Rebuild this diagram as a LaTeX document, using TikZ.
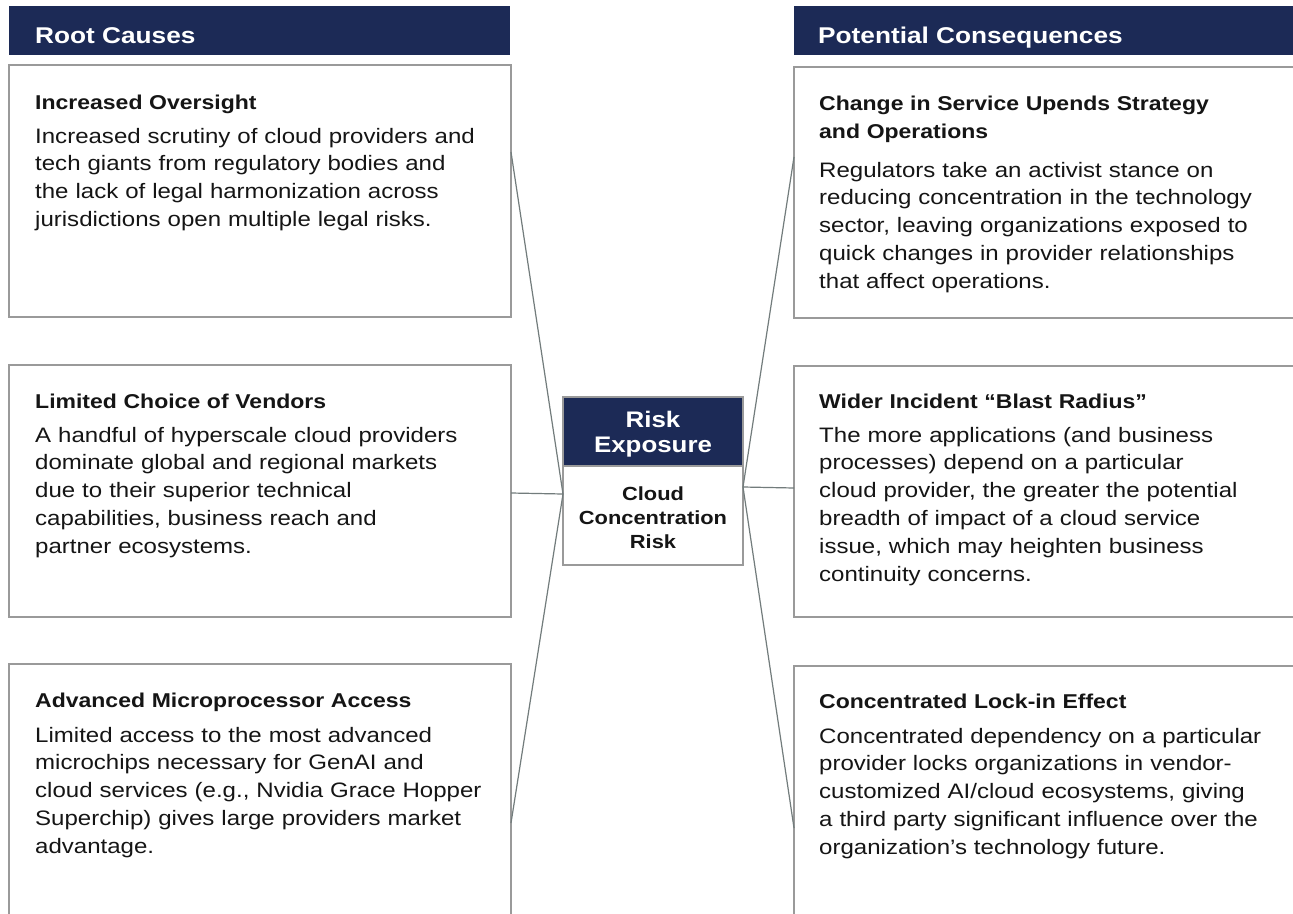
\documentclass[tikz,border=0pt]{standalone}
\usepackage{fontspec}
\setmainfont{Liberation Sans}[FakeStretch=1.15]
\definecolor{navy}{HTML}{1C2A56}
\definecolor{boxgray}{HTML}{9A9A9A}
\definecolor{linegray}{HTML}{727C7C}
\definecolor{ink}{HTML}{151515}
\begin{document}
\begin{tikzpicture}[x=1pt,y=-1pt,
  box/.style={draw=boxgray, line width=1.4pt, anchor=north west, inner sep=0pt, outer sep=0pt, fill=white},
  hdr/.style={fill=navy, draw=none, anchor=north west, inner sep=0pt, outer sep=0pt},
  ttl/.style={anchor=base west, inner sep=0pt, text width=480pt, align=left, font=\bfseries\fontsize{20}{28}\selectfont, text=ink},
  bdy/.style={anchor=base west, inner sep=0pt, text width=480pt, align=left, font=\fontsize{20.9}{27.8}\selectfont, text=ink},
  hdrtxt/.style={anchor=base west, inner sep=0pt, font=\bfseries\fontsize{22.8}{27}\selectfont, text=white},
  link/.style={draw=linegray, line width=1.2pt}
]
\path[use as bounding box, clip] (0,0) rectangle (1293,913);
\fill[white] (0,0) rectangle (1293,913);

% headers
\node[hdr, minimum width=501pt, minimum height=49pt] (lh) at (9,6) {};
\node[hdrtxt] (lht) at (35,43) {Root Causes};
\node[hdr, minimum width=520pt, minimum height=49pt] (rh) at (794,6) {};
\node[hdrtxt] (rht) at (818,43) {Potential Consequences};

% left boxes
\node[box, minimum width=502pt, minimum height=252pt] (lb1) at (9,65) {};
\node[box, minimum width=502pt, minimum height=252pt] (lb2) at (9,365) {};
\node[box, minimum width=502pt, minimum height=300pt] (lb3) at (9,664) {};
% right boxes
\node[box, minimum width=520pt, minimum height=251pt] (rb1) at (794,67) {};
\node[box, minimum width=520pt, minimum height=251pt] (rb2) at (794,366) {};
\node[box, minimum width=520pt, minimum height=300pt] (rb3) at (794,666) {};

% center
\node[hdr, minimum width=180pt, minimum height=69pt] (cn) at (563,397) {};
\node[box, minimum width=180pt, minimum height=99pt] (cw) at (563,466) {};
\draw[boxgray, line width=1.2pt] (cn.north west) rectangle (cn.south east);
\node[anchor=base, inner sep=0pt, text width=170pt, align=center, font=\bfseries\fontsize{22.5}{25}\selectfont, text=white] (ct) at (653,427) {Risk\\Exposure};
\node[anchor=base, inner sep=0pt, text width=170pt, align=center, font=\bfseries\fontsize{19}{24.3}\selectfont, text=ink] (cc) at (653,500) {Cloud\\Concentration\\Risk};

% connector endpoints
\coordinate (l1) at (lb1.east |- 0,152);
\coordinate (l2) at (lb2.east |- 0,493);
\coordinate (l3) at (lb3.east |- 0,823);
\coordinate (r1) at (rb1.west |- 0,157);
\coordinate (r2) at (rb2.west |- 0,488);
\coordinate (r3) at (rb3.west |- 0,828);
\coordinate (cl) at (cw.west |- 0,494);
\coordinate (cr) at (cw.east |- 0,487);

\draw[link] (l1) -- (cl);
\draw[link] (l2) -- (cl);
\draw[link] (l3) -- (cl);
\draw[link] (r1) -- (cr);
\draw[link] (r2) -- (cr);
\draw[link] (r3) -- (cr);

% left texts
\node[ttl] (lt1) at (35,109) {Increased Oversight};
\node[bdy] (lx1) at (35,143) {Increased scrutiny of cloud providers and\\tech giants from regulatory bodies and\\the lack of legal harmonization across\\jurisdictions open multiple legal risks.};
\node[ttl] (lt2) at (35,408) {Limited Choice of Vendors};
\node[bdy] (lx2) at (35,442) {A handful of hyperscale cloud providers\\dominate global and regional markets\\due to their superior technical\\capabilities, business reach and\\partner ecosystems.};
\node[ttl] (lt3) at (35,707) {Advanced Microprocessor Access};
\node[bdy] (lx3) at (35,742) {Limited access to the most advanced\\microchips necessary for GenAI and\\cloud services (e.g., Nvidia Grace Hopper\\Superchip) gives large providers market\\advantage.};

% right texts
\node[ttl] (rt1) at (819,110) {Change in Service Upends Strategy\\and Operations};
\node[bdy] (rx1) at (819,177) {Regulators take an activist stance on\\reducing concentration in the technology\\sector, leaving organizations exposed to\\quick changes in provider relationships\\that affect operations.};
\node[ttl] (rt2) at (819,408) {Wider Incident “Blast Radius”};
\node[bdy] (rx2) at (819,442) {The more applications (and business\\processes) depend on a particular\\cloud provider, the greater the potential\\breadth of impact of a cloud service\\issue, which may heighten business\\continuity concerns.};
\node[ttl] (rt3) at (819,708) {Concentrated Lock-in Effect};
\node[bdy] (rx3) at (819,743) {Concentrated dependency on a particular\\provider locks organizations in vendor-\\customized AI/cloud ecosystems, giving\\a third party significant influence over the\\organization’s technology future.};
\end{tikzpicture}
\end{document}
